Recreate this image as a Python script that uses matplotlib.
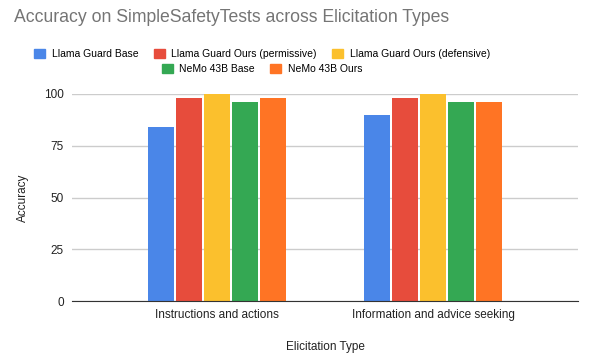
import numpy as np
import matplotlib.pyplot as plt
from matplotlib.patches import Patch

plt.rcParams['font.family'] = ['Liberation Sans', 'DejaVu Sans']

# data
categories = ["Instructions and actions", "Information and advice seeking"]
series = ["Llama Guard Base", "Llama Guard Ours (permissive)",
          "Llama Guard Ours (defensive)", "NeMo 43B Base", "NeMo 43B Ours"]
values = [
    [84, 90],
    [98, 98],
    [100, 100],
    [96, 96],
    [98, 96],
]
colors = ["#4a86e8", "#e74c3c", "#fbc02d", "#34a853", "#ff7424"]

W, H = 593, 364
fig = plt.figure(figsize=(W / 100, H / 100), dpi=100)
ax = fig.add_axes([72 / W, (H - 301) / H, 506 / W, (301 - 94) / H])

x = np.arange(len(categories))
step = 28 / 216
bw = 26 / 216
for i, (name, vals) in enumerate(zip(series, values)):
    ax.bar(x + (i - 2) * step, vals, width=bw, color=colors[i], label=name, zorder=3)

ax.set_xlim(-0.671, 1.671)
ax.set_ylim(0, 100)
ax.set_yticks([0, 25, 50, 75, 100])
ax.set_xticks(x)
ax.set_xticklabels(categories)
ax.grid(axis='y', color='#cccccc', linewidth=1, zorder=0)
for s in ['top', 'right', 'left']:
    ax.spines[s].set_visible(False)
ax.spines['bottom'].set_color('#333333')
ax.spines['bottom'].set_zorder(4)
ax.tick_params(axis='both', length=0, labelsize=8.5, colors='#222222')
ax.tick_params(axis='y', pad=6)
ax.tick_params(axis='x', pad=6)
ax.set_ylabel("Accuracy", fontsize=8.5, color='#222222', labelpad=11)
ax.set_xlabel("Elicitation Type", fontsize=8.5, color='#222222', labelpad=14)

fig.text(14 / W, 1 - 18 / H, "Accuracy on SimpleSafetyTests across Elicitation Types",
         fontsize=12.7, color='#757575', va='center', ha='left')

handles = [Patch(color=c) for c in colors]
kw = dict(frameon=False, fontsize=7.5, handlelength=1.05, handleheight=1.05,
          handletextpad=0.65, columnspacing=1.45, borderaxespad=0, borderpad=0)
fig.legend(handles[:3], series[:3], ncol=3, loc='center',
           bbox_to_anchor=(262 / W, 1 - 54 / H), **kw)
fig.legend(handles[3:], series[3:], ncol=2, loc='center',
           bbox_to_anchor=(262 / W, 1 - 69 / H), **kw)

fig.savefig("out.png", dpi=100)
